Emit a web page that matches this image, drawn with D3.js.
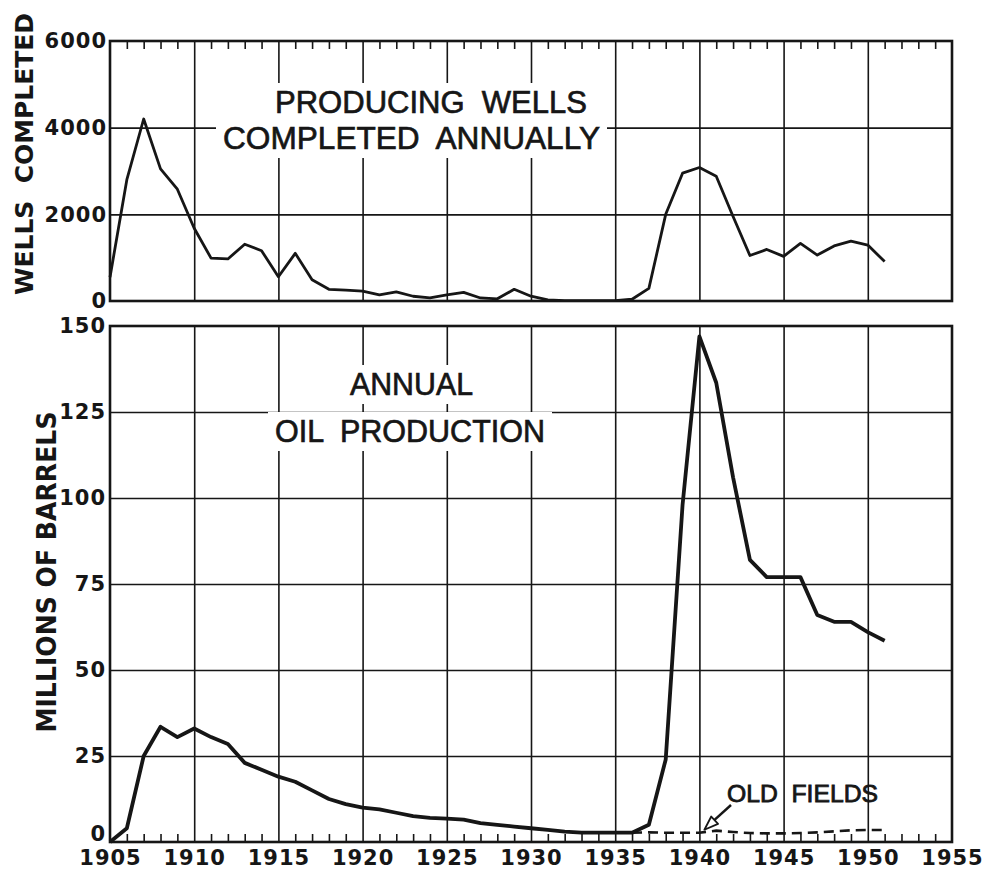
<!DOCTYPE html>
<html>
<head>
<meta charset="utf-8">
<script src="https://cdn.jsdelivr.net/npm/d3@7"></script>
<style>
body { margin: 0; background: #fff; }
text { white-space: pre; }
</style>
</head>
<body>
<div id="chart"></div>
<script>
// values
var years = [1905, 1906, 1907, 1908, 1909, 1910, 1911, 1912, 1913, 1914,
  1915, 1916, 1917, 1918, 1919, 1920, 1921, 1922, 1923, 1924,
  1925, 1926, 1927, 1928, 1929, 1930, 1931, 1932, 1933, 1934,
  1935, 1936, 1937, 1938, 1939, 1940, 1941, 1942, 1943, 1944,
  1945, 1946, 1947, 1948, 1949, 1950, 1951];

// producing wells completed annually
var wells = [550, 2800, 4200, 3050, 2580, 1680, 990, 970, 1310, 1160,
  560, 1100, 490, 270, 250, 230, 140, 210, 110, 70,
  140, 200, 70, 50, 270, 110, 25, 10, 10, 10,
  10, 40, 290, 2000, 2950, 3080, 2880, 1950, 1050, 1190,
  1030, 1330, 1060, 1270, 1380, 1290, 910];

// annual oil production, millions of barrels
var production = [0, 4, 25, 33.5, 30.5, 33, 30.5, 28.5, 23, 21,
  19, 17.5, 15, 12.5, 11, 10, 9.5, 8.5, 7.5, 7,
  6.8, 6.5, 5.5, 5, 4.5, 4, 3.5, 3, 2.7, 2.7,
  2.7, 2.7, 5, 24, 98, 147, 133.5, 106, 82, 77,
  77, 77, 66, 64, 64, 61, 58.5];

// old fields (dashed)
var oldFieldYears = [1936, 1937, 1938, 1939, 1940, 1941, 1942, 1943, 1944, 1945,
  1946, 1947, 1948, 1949, 1950, 1951];
var oldFields = [2.7, 2.8, 2.7, 2.7, 2.7, 3.3, 2.9, 2.6, 2.5, 2.5,
  2.6, 2.8, 3.1, 3.4, 3.5, 3.5];

var wellTicks = [0, 2000, 4000, 6000];
var barrelTicks = [0, 25, 50, 75, 100, 125, 150];
var yearLabels = [1905, 1910, 1915, 1920, 1925, 1930, 1935, 1940, 1945, 1950, 1955];

var svgWidth = 985;
var svgHeight = 877;

// plot frame
var left = 110, right = 952;
var top1 = 41, bottom1 = 301;   // wells panel
var top2 = 326, bottom2 = 842;  // production panel

var ink = "#161616";
var numFont = "'DejaVu Sans', sans-serif";
var letterFont = "'Liberation Sans', Arial, sans-serif";

var svg = d3.select("#chart")
  .append("svg")
  .attr("width", svgWidth)
  .attr("height", svgHeight);

svg.append("rect").attr("width", svgWidth).attr("height", svgHeight).attr("fill", "#fff");

var x = d3.scaleLinear().domain([1905, 1955]).range([left, right]);
var yWells = d3.scaleLinear().domain([0, 6000]).range([bottom1, top1]);
var yOil = d3.scaleLinear().domain([0, 150]).range([bottom2, top2]);

var minorYears = d3.range(1906, 1955).filter(d => d % 5 != 0);
var innerYears = yearLabels.slice(1, -1);

// grid lines only, no labels
function gridLines(g) {
  g.select(".domain").remove();
  g.selectAll("text").remove();
  g.selectAll("line").attr("stroke", ink).attr("stroke-width", 1.6);
}

// --- wells panel grid
svg.append("g")
  .attr("transform", `translate(0, ${bottom1})`)
  .call(d3.axisBottom(x).tickValues(innerYears).tickSize(-(bottom1 - top1)))
  .call(gridLines);
svg.append("g")
  .attr("transform", `translate(${left}, 0)`)
  .call(d3.axisLeft(yWells).tickValues([2000, 4000]).tickSize(-(right - left)))
  .call(gridLines);
// yearly ticks hanging from the top border
svg.append("g")
  .attr("transform", `translate(0, ${top1})`)
  .call(d3.axisBottom(x).tickValues(minorYears).tickSize(8))
  .call(gridLines);

// --- production panel grid
svg.append("g")
  .attr("transform", `translate(0, ${bottom2})`)
  .call(d3.axisBottom(x).tickValues(innerYears).tickSize(-(bottom2 - top2)))
  .call(gridLines);
svg.append("g")
  .attr("transform", `translate(${left}, 0)`)
  .call(d3.axisLeft(yOil).tickValues([25, 50, 75, 100, 125]).tickSize(-(right - left)))
  .call(gridLines);
// yearly ticks standing on the bottom border
svg.append("g")
  .attr("transform", `translate(0, ${bottom2})`)
  .call(d3.axisTop(x).tickValues(minorYears).tickSize(8))
  .call(gridLines);

// --- titles inside the panels, each on a white patch that breaks the grid
var patchLayer = svg.append("g");
var textLayer = svg.append("g");

function title(txt, x0, baseline, len, size) {
  var t = textLayer.append("text")
    .attr("x", x0)
    .attr("y", baseline)
    .attr("textLength", len)
    .attr("lengthAdjust", "spacingAndGlyphs")
    .style("font-family", letterFont)
    .style("font-size", size + "px")
    .style("fill", ink)
    .style("stroke", ink)
    .style("stroke-width", 0.7)
    .text(txt);
  var b = t.node().getBBox();
  patchLayer.append("rect")
    .attr("x", b.x - 7)
    .attr("y", b.y - 1)
    .attr("width", b.width + 14)
    .attr("height", b.height + 3)
    .attr("fill", "#fff");
}

title("PRODUCING  WELLS", 275, 113, 312, 32);
title("COMPLETED  ANNUALLY", 223, 149, 377, 32);
title("ANNUAL", 350, 395, 123, 32);
title("OIL  PRODUCTION", 275, 442, 270, 32);

// --- frames
svg.append("rect")
  .attr("x", left).attr("y", top1)
  .attr("width", right - left).attr("height", bottom1 - top1)
  .attr("fill", "none").attr("stroke", ink).attr("stroke-width", 2.6);
svg.append("rect")
  .attr("x", left).attr("y", top2)
  .attr("width", right - left).attr("height", bottom2 - top2)
  .attr("fill", "none").attr("stroke", ink).attr("stroke-width", 2.6);

// --- data lines
var wellLine = d3.line()
  .x((d, i) => x(years[i]))
  .y(d => yWells(d));

svg.append("path")
  .datum(wells)
  .attr("d", wellLine)
  .attr("fill", "none")
  .attr("stroke", ink)
  .attr("stroke-width", 2.8)
  .attr("stroke-linejoin", "round");

var oilLine = d3.line()
  .x((d, i) => x(years[i]))
  .y(d => yOil(d));

svg.append("path")
  .datum(production)
  .attr("d", oilLine)
  .attr("fill", "none")
  .attr("stroke", ink)
  .attr("stroke-width", 3.8)
  .attr("stroke-linejoin", "round");

var oldLine = d3.line()
  .x((d, i) => x(oldFieldYears[i]))
  .y(d => yOil(d));

svg.append("path")
  .datum(oldFields)
  .attr("d", oldLine)
  .attr("fill", "none")
  .attr("stroke", ink)
  .attr("stroke-width", 2.6)
  .attr("stroke-dasharray", "10,6");

// --- OLD FIELDS note with arrow
svg.append("text")
  .attr("x", 727)
  .attr("y", 802)
  .attr("textLength", 151)
  .attr("lengthAdjust", "spacingAndGlyphs")
  .style("font-family", letterFont)
  .style("font-size", "23px")
  .style("fill", ink)
  .style("stroke", ink)
  .style("stroke-width", 0.8)
  .text("OLD  FIELDS");

var tipX = x(1940) + 5, tipY = yOil(2.7) - 3;
var tailX = 731, tailY = 805;
svg.append("line")
  .attr("x1", tailX).attr("y1", tailY)
  .attr("x2", tipX + 6).attr("y2", tipY - 6)
  .attr("stroke", ink).attr("stroke-width", 2.4);
var ang = Math.atan2(tipY - tailY, tipX - tailX);
var headLen = 14, headHalf = 5;
var bx = tipX - headLen * Math.cos(ang), by = tipY - headLen * Math.sin(ang);
svg.append("path")
  .attr("d", `M${tipX},${tipY} L${bx + headHalf * Math.sin(ang)},${by - headHalf * Math.cos(ang)} L${bx - headHalf * Math.sin(ang)},${by + headHalf * Math.cos(ang)} Z`)
  .attr("fill", "#fff")
  .attr("stroke", ink)
  .attr("stroke-width", 1.8)
  .attr("stroke-linejoin", "round");

// --- axis labels
function labelAxis(g) {
  g.select(".domain").remove();
  g.selectAll("text")
    .style("font-family", numFont)
    .style("font-weight", "bold")
    .style("font-size", "21px")
    .style("letter-spacing", "1px")
    .style("fill", ink);
}

svg.append("g")
  .attr("transform", `translate(${left}, 0)`)
  .call(d3.axisLeft(yWells).tickValues(wellTicks).tickSize(0).tickPadding(3).tickFormat(d3.format("d")))
  .call(labelAxis);

var oilAxis = svg.append("g")
  .attr("transform", `translate(${left}, 0)`)
  .call(d3.axisLeft(yOil).tickValues(barrelTicks).tickSize(0).tickPadding(4).tickFormat(d3.format("d")))
  .call(labelAxis);
// the zero sits a little above the year labels
oilAxis.selectAll(".tick").filter(d => d == 0).select("text").attr("y", -8);

svg.append("g")
  .attr("transform", `translate(0, ${bottom2})`)
  .call(d3.axisBottom(x).tickValues(yearLabels).tickSize(0).tickPadding(8).tickFormat(d3.format("d")))
  .call(labelAxis);

// rotated axis titles
svg.append("text")
  .attr("transform", "translate(33, 154) rotate(-90)")
  .attr("text-anchor", "middle")
  .attr("textLength", 282)
  .attr("lengthAdjust", "spacingAndGlyphs")
  .style("font-family", numFont)
  .style("font-weight", "bold")
  .style("font-size", "25px")
  .style("fill", ink)
  .text("WELLS  COMPLETED");

svg.append("text")
  .attr("transform", "translate(56, 572) rotate(-90)")
  .attr("text-anchor", "middle")
  .attr("textLength", 321)
  .attr("lengthAdjust", "spacingAndGlyphs")
  .style("font-family", numFont)
  .style("font-weight", "bold")
  .style("font-size", "27px")
  .style("fill", ink)
  .text("MILLIONS OF BARRELS");
</script>
</body>
</html>
